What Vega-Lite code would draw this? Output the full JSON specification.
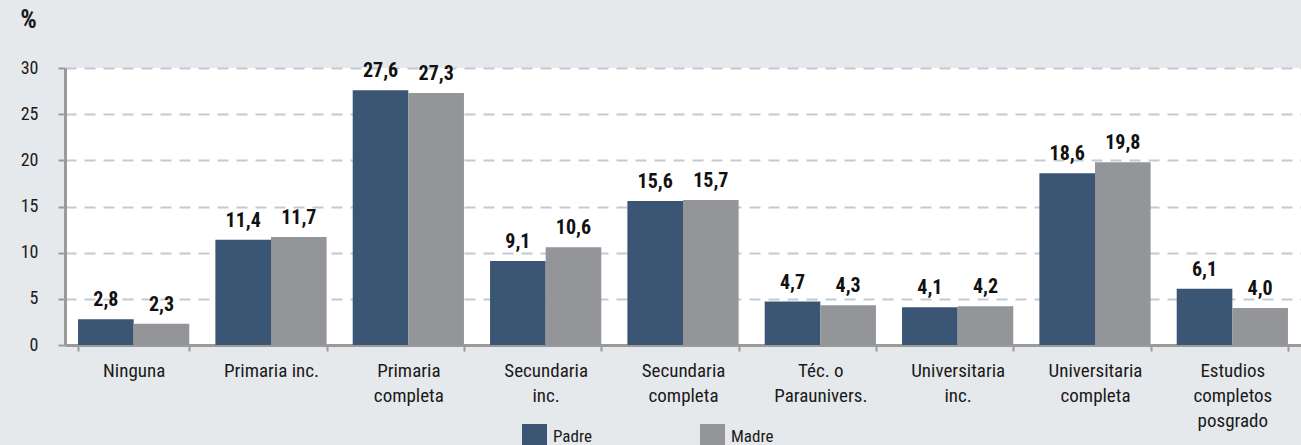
{
  "$schema": "https://vega.github.io/schema/vega-lite/v6.json",
  "autosize": {"type": "none"},
  "padding": {"left": 65, "top": 68, "right": 0, "bottom": 100},
  "width": 1236,
  "height": 277,
  "background": "#e6e9ec",
  "config": {
    "view": {"fill": "white", "stroke": null},
    "font": "Roboto Condensed, Arial Narrow, Liberation Sans Narrow, DejaVu Sans Condensed, sans-serif",
    "locale": {"number": {"decimal": ",", "thousands": ".", "grouping": [3], "currency": ["", "€"]}}
  },
  "data": {
    "values": [
      {"nivel": "Ninguna", "grupo": "Padre", "pct": 2.8},
      {"nivel": "Ninguna", "grupo": "Madre", "pct": 2.3},
      {"nivel": "Primaria  inc.", "grupo": "Padre", "pct": 11.4},
      {"nivel": "Primaria  inc.", "grupo": "Madre", "pct": 11.7},
      {"nivel": "Primaria|completa", "grupo": "Padre", "pct": 27.6},
      {"nivel": "Primaria|completa", "grupo": "Madre", "pct": 27.3},
      {"nivel": "Secundaria|inc.", "grupo": "Padre", "pct": 9.1},
      {"nivel": "Secundaria|inc.", "grupo": "Madre", "pct": 10.6},
      {"nivel": "Secundaria|completa", "grupo": "Padre", "pct": 15.6},
      {"nivel": "Secundaria|completa", "grupo": "Madre", "pct": 15.7},
      {"nivel": "Téc.  o|Paraunivers.", "grupo": "Padre", "pct": 4.7},
      {"nivel": "Téc.  o|Paraunivers.", "grupo": "Madre", "pct": 4.3},
      {"nivel": "Universitaria|inc.", "grupo": "Padre", "pct": 4.1},
      {"nivel": "Universitaria|inc.", "grupo": "Madre", "pct": 4.2},
      {"nivel": "Universitaria|completa", "grupo": "Padre", "pct": 18.6},
      {"nivel": "Universitaria|completa", "grupo": "Madre", "pct": 19.8},
      {"nivel": "Estudios|completos|posgrado", "grupo": "Padre", "pct": 6.1},
      {"nivel": "Estudios|completos|posgrado", "grupo": "Madre", "pct": 4.0}
    ]
  },
  "encoding": {
    "x": {
      "field": "nivel", "type": "nominal", "sort": null,
      "scale": {"paddingInner": 0.19, "paddingOuter": 0.095},
      "axis": {
        "title": null, "labelAngle": 0, "labelExpr": "split(datum.label, '|')",
        "labelFontSize": 19, "labelColor": "#1a1a1a", "labelLineHeight": 25,
        "labelBaseline": "top", "labelPadding": 10,
        "tickBand": "extent", "tickSize": 6, "tickColor": "#9a9a9a", "tickWidth": 2,
        "domainColor": "#9a9a9a", "domainWidth": 3, "labelLimit": 200
      }
    },
    "xOffset": {"field": "grupo", "type": "nominal", "sort": ["Padre", "Madre"], "scale": {"paddingInner": 0, "paddingOuter": 0}},
    "y": {
      "field": "pct", "type": "quantitative",
      "scale": {"domain": [0, 30], "nice": false},
      "axis": {
        "title": "%", "titleAngle": 0, "titleX": -37, "titleY": -36, "titleAlign": "center",
        "titleFontSize": 26, "titleFontWeight": "bold", "titleColor": "#1a1a1a",
        "values": [0, 5, 10, 15, 20, 25, 30],
        "labelFontSize": 18, "labelColor": "#1a1a1a", "labelPadding": 20,
        "tickSize": 7, "tickColor": "#9a9a9a", "tickWidth": 2,
        "domainColor": "#9a9a9a", "domainWidth": 3,
        "gridColor": "#c3cad3", "gridDash": [11, 8], "gridWidth": 2
      }
    }
  },
  "layer": [
    {
      "mark": {"type": "bar"},
      "encoding": {
        "color": {
          "field": "grupo", "type": "nominal",
          "scale": {"domain": ["Padre", "Madre"], "range": ["#3a5674", "#939598"]},
          "legend": {
            "title": null, "orient": "none", "direction": "horizontal",
            "legendX": 457, "legendY": 356, "padding": 0,
            "symbolType": "square", "symbolSize": 625, "symbolStrokeWidth": 0,
            "labelFontSize": 17, "labelColor": "#1a1a1a", "labelOffset": 6,
            "columnPadding": 108
          }
        }
      }
    },
    {
      "mark": {"type": "text", "baseline": "bottom", "dy": -9, "fontSize": 20, "fontWeight": "bold", "color": "#111"},
      "encoding": {
        "text": {"field": "pct", "type": "quantitative", "format": ".1f"}
      }
    }
  ]
}
